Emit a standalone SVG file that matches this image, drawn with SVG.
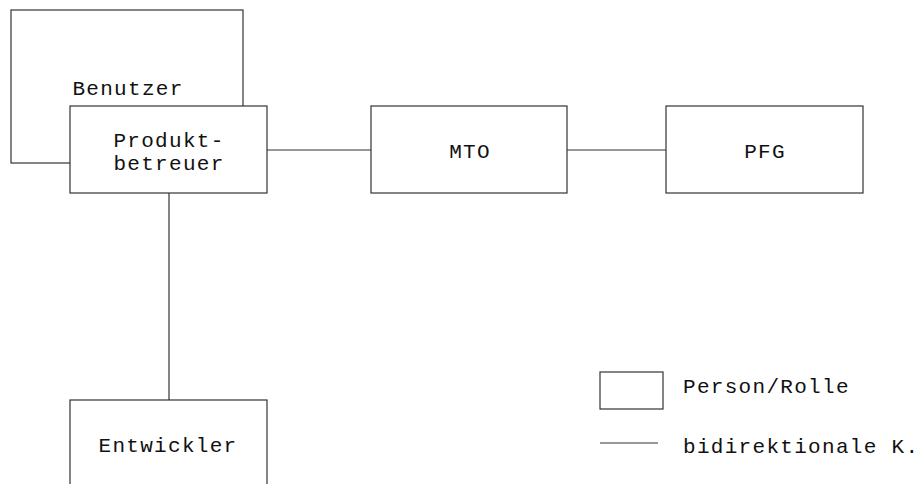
<svg xmlns="http://www.w3.org/2000/svg" width="918" height="484" viewBox="0 0 918 484">
<style>
.box{fill:#fff;stroke:#333;stroke-width:1.2}
.ln{stroke:#333;stroke-width:1.2;fill:none}
.t{font-family:"Liberation Mono","Courier New",monospace;font-size:21px;letter-spacing:1.3px;fill:#111}
.c{text-anchor:middle}
</style>
<rect width="918" height="484" fill="#fff"/>
<g id="connectors">
<line class="ln" x1="267" y1="150" x2="371" y2="150"/>
<line class="ln" x1="567" y1="150" x2="666" y2="150"/>
<line class="ln" x1="169" y1="193" x2="169" y2="400"/>
</g>
<g id="benutzer">
<rect class="box" x="11" y="10" width="232" height="153"/>
<text class="t c" x="128" y="95">Benutzer</text>
</g>
<g id="produktbetreuer">
<rect class="box" x="70" y="106" width="197" height="87"/>
<text class="t c" x="169" y="147">Produkt-</text>
<text class="t c" x="169" y="170">betreuer</text>
</g>
<g id="mto">
<rect class="box" x="371" y="106" width="196" height="87"/>
<text class="t c" x="470" y="158">MTO</text>
</g>
<g id="pfg">
<rect class="box" x="666" y="106" width="197" height="87"/>
<text class="t c" x="765" y="158">PFG</text>
</g>
<g id="entwickler">
<rect class="box" x="70" y="400" width="197" height="100"/>
<text class="t c" x="168" y="452">Entwickler</text>
</g>
<g id="legend">
<rect class="box" x="600" y="372" width="63" height="37"/>
<text class="t" x="683" y="393">Person/Rolle</text>
<line class="ln" x1="600" y1="443" x2="658" y2="443"/>
<text class="t" x="683" y="453">bidirektionale K.</text>
</g>
</svg>
